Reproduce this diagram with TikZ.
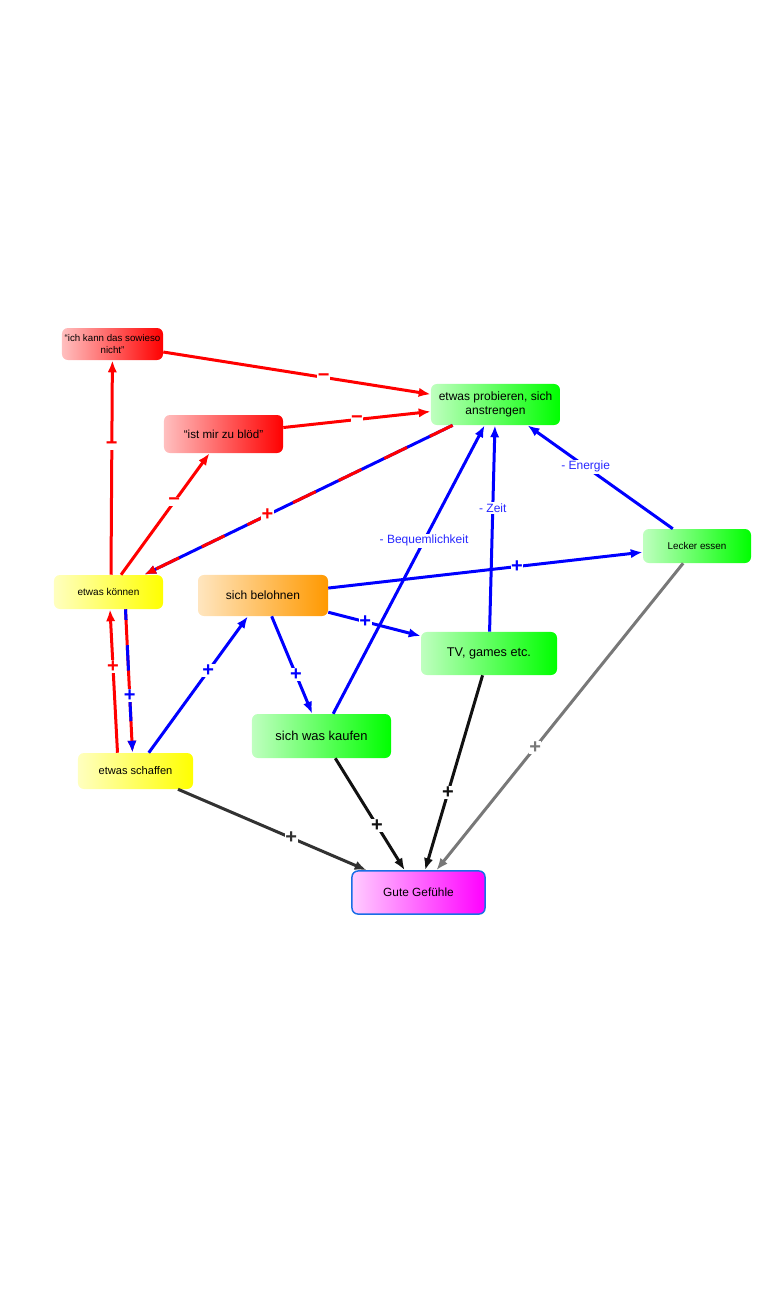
\documentclass[tikz,border=0pt]{standalone}
\usepackage{fontspec}
\setmainfont{Liberation Sans}
\usepackage{xcolor}
\usepackage{tikz}
\usetikzlibrary{arrows.meta, calc}

\definecolor{kred}{RGB}{255,0,0}
\definecolor{kyellow}{RGB}{255,255,0}
\definecolor{korange}{RGB}{255,153,0}
\definecolor{kgreen}{RGB}{0,255,0}
\definecolor{kmagenta}{RGB}{255,0,255}
\definecolor{kborder}{RGB}{25,110,230}
\definecolor{kblue}{RGB}{0,0,255}
\definecolor{ktext}{RGB}{40,40,255}
\definecolor{kdark}{RGB}{50,50,50}
\definecolor{kblack}{RGB}{17,17,17}
\definecolor{kgrey}{RGB}{120,120,120}

\newcommand{\boxfont}[2]{\fontsize{#1}{#2}\selectfont}

\begin{document}
\begin{tikzpicture}[x=0.75pt, y=-0.75pt, >={Latex[length=9pt,width=7pt]},
  box/.style={rectangle, rounded corners=4.5pt, align=center, inner sep=2pt, text=black},
  link/.style={->, line width=2.25pt},
  sign/.style={fill=white, inner sep=0.4pt, pos=0.6, font=\bfseries\boxfont{15}{15}},
  effect/.style={fill=white, inner sep=1pt, pos=0.6, text=ktext, font=\boxfont{9}{10}}]

\useasboundingbox (0,0) rectangle (783,1304);

\node[box, left color=kred!25, right color=kred, minimum width=75.8pt, minimum height=24pt, font=\boxfont{7.3}{9}] (ichkann) at (112.5,344) {“ich kann das sowieso\\nicht”};
\node[box, left color=kred!25, right color=kred, minimum width=89.3pt, minimum height=28.5pt, font=\boxfont{8.7}{10}] (istmir) at (223.5,434) {“ist mir zu blöd”};
\node[box, left color=kgreen!25, right color=kgreen, minimum width=96.8pt, minimum height=30.8pt, font=\boxfont{9}{10.5}] (probieren) at (495.5,404.5) {etwas probieren, sich\\anstrengen};
\node[box, left color=kyellow!25, right color=kyellow, minimum width=81.8pt, minimum height=25.5pt, font=\boxfont{7.5}{9}] (koennen) at (108.5,592) {etwas können};
\node[box, left color=korange!25, right color=korange, minimum width=97.5pt, minimum height=30.8pt, font=\boxfont{9}{10}] (belohnen) at (263,595.5) {sich belohnen};
\node[box, left color=kgreen!25, right color=kgreen, minimum width=81pt, minimum height=25.5pt, font=\boxfont{7.4}{9}] (lecker) at (697,546) {Lecker essen};
\node[box, left color=kgreen!25, right color=kgreen, minimum width=102pt, minimum height=32.3pt, font=\boxfont{9.5}{11}] (tv) at (489,653.5) {TV, games etc.};
\node[box, left color=kgreen!25, right color=kgreen, minimum width=104.3pt, minimum height=33pt, font=\boxfont{9.7}{11}] (kaufen) at (321.5,736) {sich was kaufen};
\node[box, left color=kyellow!25, right color=kyellow, minimum width=86.3pt, minimum height=27pt, font=\boxfont{8.3}{10}] (schaffen) at (135.5,771) {etwas schaffen};
\node[box, left color=kmagenta!20, right color=kmagenta, draw=kborder, line width=1.1pt, minimum width=99.8pt, minimum height=32.3pt, font=\boxfont{8.9}{10}] (gute) at (418.5,892.5) {Gute Gefühle};

% hemmende Gedanken
\draw[link, kred] ($(koennen.north)+(2.5,0)$) -- node[sign, text=kred] {−} (ichkann);
\draw[link, kred] (koennen) -- node[sign, text=kred] {−} (istmir);
\draw[link, kred] (ichkann) -- node[sign, text=kred] {−} (probieren);
\draw[link, kred] (istmir) -- node[sign, text=kred, pos=0.5] {−} (probieren);

% gemischte Wirkungen
\draw[link, kblue] (probieren) -- (koennen);
\draw[link, kred, dash pattern=on 19pt off 19pt] (probieren) -- node[sign, text=kred] {+} (koennen);
\draw[link, kred] ($(koennen.south)+(17,0)$) -- ($(schaffen.north)+(-3,0)$);
\draw[link, kblue, dash pattern=on 19pt off 19pt, dash phase=11pt] ($(koennen.south)+(17,0)$) -- node[sign, text=kblue] {+} ($(schaffen.north)+(-3,0)$);
\draw[link, kred] ($(schaffen.north)+(-18,0)$) -- node[sign, text=kred] {+} ($(koennen.south)+(1.5,0)$);

% Belohnung
\draw[link, kblue] (schaffen) -- node[sign, text=kblue] {+} (belohnen);
\draw[link, kblue] (belohnen) -- node[sign, text=kblue] {+} (kaufen);
\draw[link, kblue] (belohnen) -- node[sign, text=kblue, pos=0.4] {+} (tv);
\draw[link, kblue] (belohnen) -- node[sign, text=kblue] {+} (lecker);

% Kosten
\draw[link, kblue] (kaufen) -- node[effect] {- Bequemlichkeit} (probieren);
\draw[link, kblue] (tv) -- node[effect] {- Zeit} (probieren);
\draw[link, kblue] (lecker) -- node[effect] {- Energie} ($(probieren.south)+(32,0)$);

% Gefuehle
\draw[link, kdark] (schaffen) -- node[sign, text=kdark] {+} (gute);
\draw[link, kblack] (kaufen) -- node[sign, text=kblack] {+} (gute);
\draw[link, kblack] (tv) -- node[sign, text=kblack] {+} (gute);
\draw[link, kgrey] (lecker) -- node[sign, text=kgrey] {+} (gute);

\end{tikzpicture}
\end{document}
